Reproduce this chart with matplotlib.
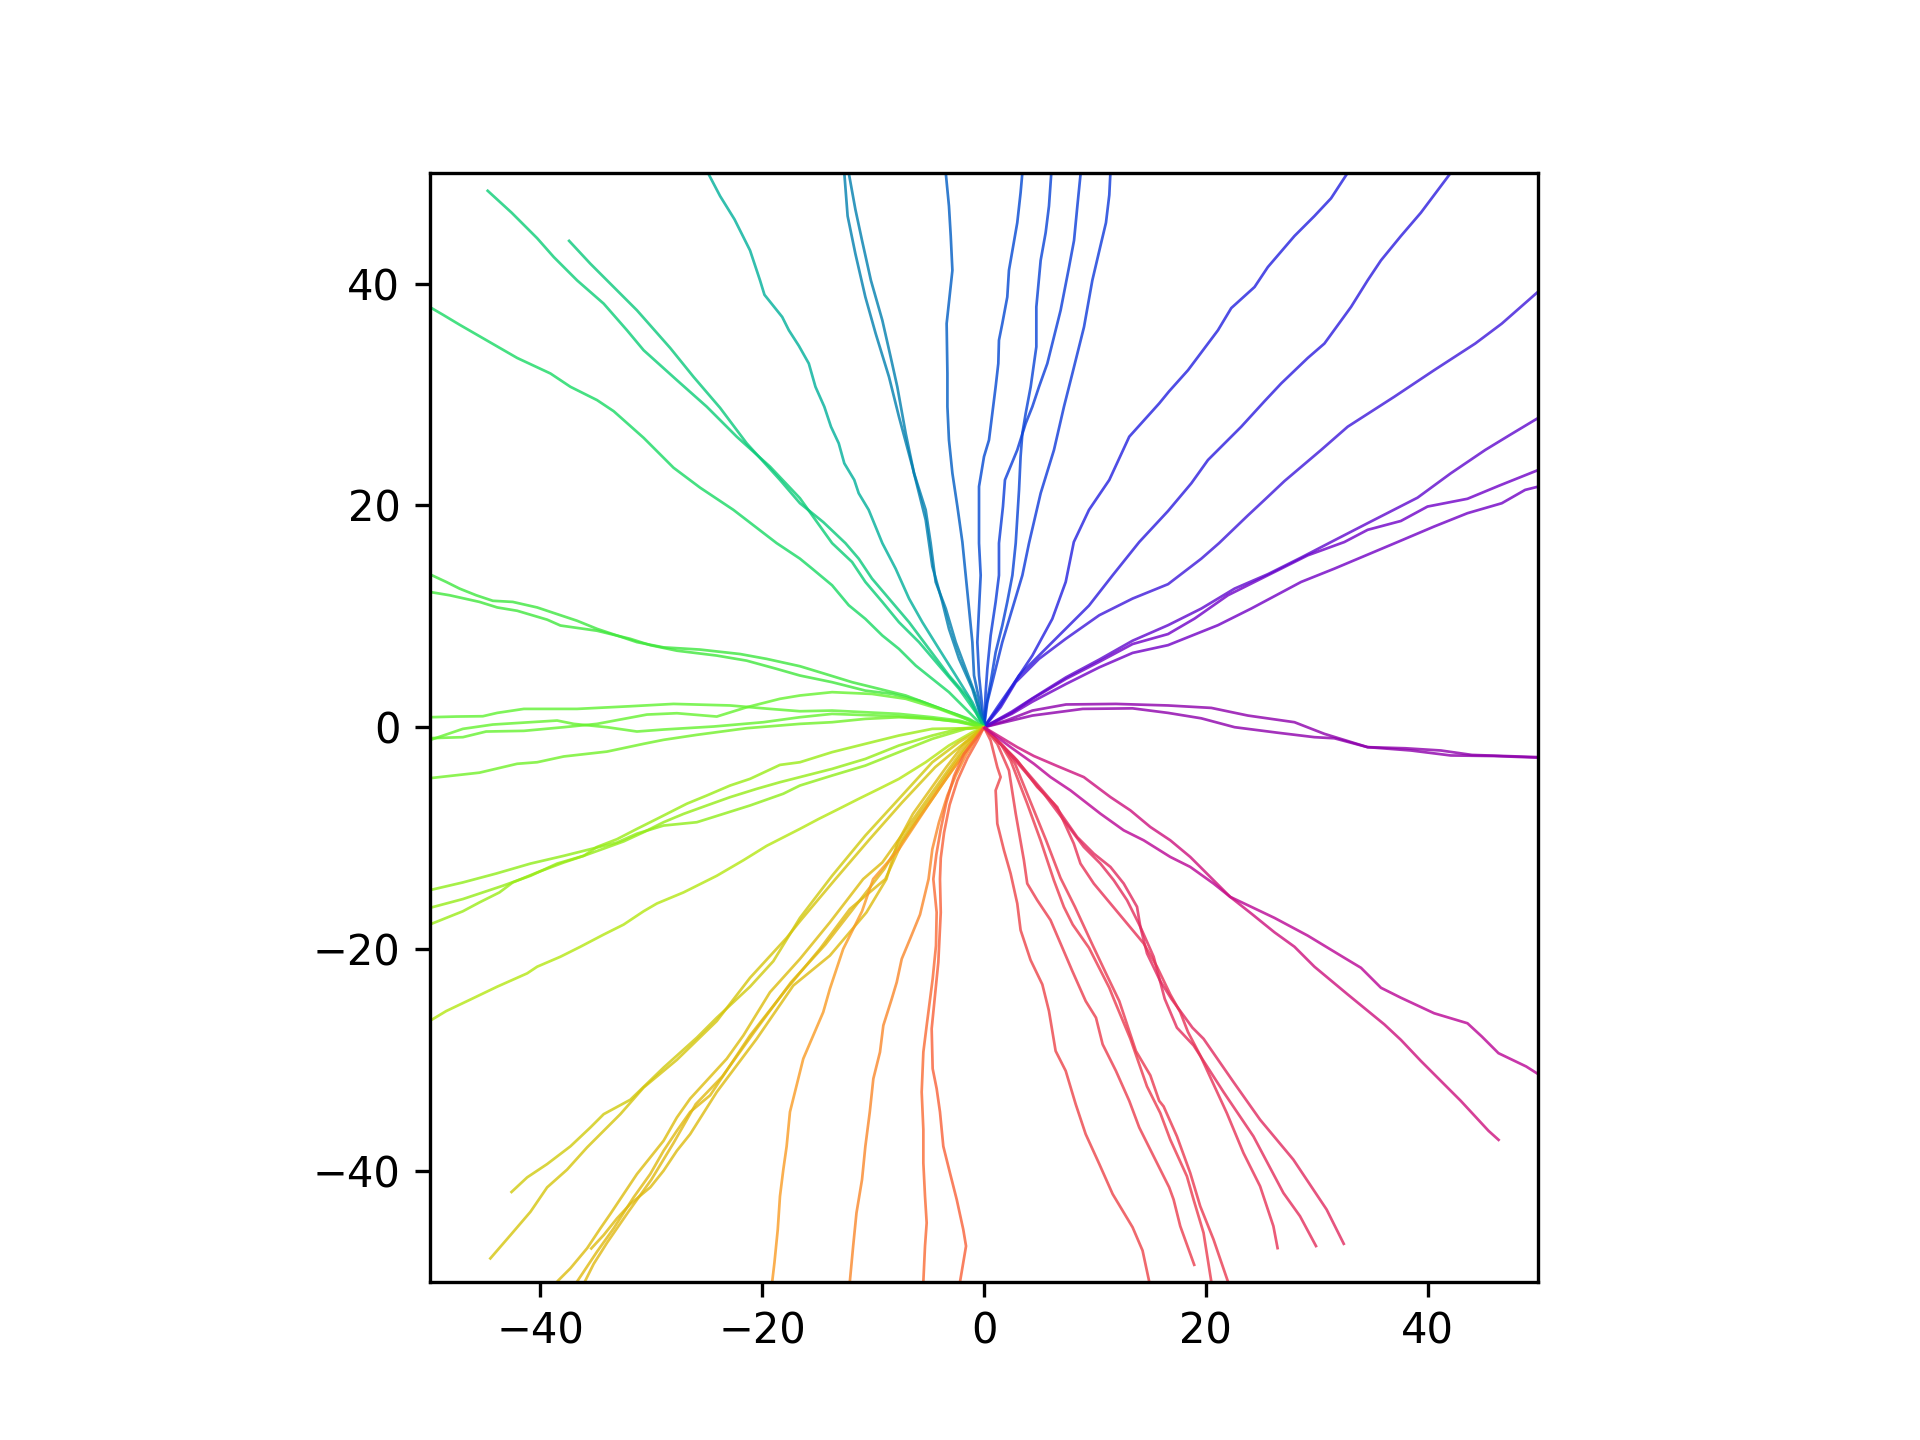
import numpy as np
import matplotlib
matplotlib.use("Agg")
import matplotlib.pyplot as plt
from matplotlib.collections import LineCollection

# ---- walk paths (x, y) ----
rh1 = [(0,0),(2.0,0.6),(4.36,1.5),(7.4,2.05),(11.9,2.1),(16.6,1.96),(20.5,1.74),(23.8,1.05),(28.0,0.45),(30.7,-0.6),(34.6,-1.8),(38.0,-1.9),(41.2,-2.1),(44,-2.5),(50,-2.7)]
rh2 = [(0,0),(4.36,1.05),(8.9,1.65),(13.4,1.7),(16.6,1.29),(19.6,0.8),(22.6,0.0),(26.5,-0.5),(29.8,-0.9),(31.6,-1.0),(34.6,-1.8),(38.5,-2.1),(42.1,-2.55),(46,-2.6),(50,-2.75)]
u21 = [(0,0),(2.5,1.2),(4.36,2.3),(7.4,3.9),(10.4,5.4),(13.4,6.7),(16.6,7.4),(21.1,9.2),(24.1,10.7),(28.6,13.1),(31.6,14.3),(37.3,16.7),(40.6,18.1),(43.6,19.3),(46.7,20.2),(48.8,21.4),(50,21.7)]
u23 = [(0,0),(2.5,1.3),(4.36,2.56),(7.4,4.36),(10.4,5.9),(13.4,7.5),(16.6,8.4),(19.0,9.8),(22.0,11.9),(25.0,13.4),(29.2,15.5),(32.5,16.7),(34.6,17.8),(37.6,18.6),(40.0,19.9),(43.6,20.6),(46.5,21.8),(50,23.2)]
u28 = [(0,0),(2.5,1.4),(4.36,2.6),(7.4,4.5),(10.4,6.1),(13.4,7.8),(16.6,9.2),(19.6,10.7),(22.6,12.5),(25.6,13.8),(28.6,15.3),(31.3,16.7),(34.6,18.4),(39.1,20.7),(42.1,22.9),(45.2,25.0),(47.5,26.4),(50,27.9)]
u39 = [(0,0),(1.5,1.8),(2.86,4.06),(4.96,6.16),(7.37,7.97),(10.4,10.1),(13.4,11.6),(16.6,12.9),(19.6,15.2),(21.2,16.6),(23.8,19.1),(25.3,20.5),(27.1,22.2),(30.4,25.0),(32.8,27.1),(37.0,29.8),(40.6,32.2),(44.3,34.6),(46.7,36.4),(50,39.3)]
bv2 = [(0,0),(1.5,2.0),(3.16,4.66),(6.16,7.67),(9.47,10.97),(11.6,13.7),(14.0,16.7),(16.6,19.5),(18.7,22.0),(20.2,24.1),(23.2,27.1),(25.3,29.4),(26.8,31.0),(29.2,33.3),(30.7,34.6),(33.1,37.9),(34.6,40.3),(35.8,42.1),(37.6,44.3),(39.4,46.4),(42.1,50)]
bv1 = [(0,0),(1.2,1.8),(2.56,3.76),(4.36,6.46),(6.16,9.77),(7.37,13.1),(8.1,16.7),(9.47,19.6),(11.3,22.3),(13.1,26.2),(15.8,29.2),(16.7,30.3),(18.4,32.2),(21.1,35.8),(22.3,37.8),(24.4,39.7),(25.6,41.5),(28.0,44.3),(29.8,46.1),(31.3,47.7),(32.8,50)]
top_g = [(0,0),(0.3,2.25),(0.9,4.66),(1.65,7.67),(2.56,10.7),(3.46,13.7),(4.06,16.6),(5.11,21.1),(6.31,25.0),(7.21,28.9),(7.97,31.9),(9.02,36.1),(9.77,40.3),(10.5,43.4),(11.0,45.5),(11.3,48),(11.4,50)]
top_f = [(0,0),(0.15,3.16),(0.3,5.26),(0.6,8.27),(1.05,11.3),(1.35,13.7),(1.35,16.6),(1.71,19.9),(1.89,22.3),(3.0,25.0),(3.76,27.4),(4.36,28.9),(4.96,30.7),(5.71,32.8),(6.31,35.2),(6.91,37.6),(7.67,41.5),(8.12,43.9),(8.42,47.0),(8.72,50)]
top_e = [(0,0),(0.15,1.65),(0.6,4.06),(1.05,6.76),(1.65,9.17),(2.1,11.3),(2.56,13.7),(2.86,16.6),(3.16,21.4),(3.3,24.4),(3.46,26.5),(3.76,28.3),(4.21,30.7),(4.72,34.3),(4.72,37.9),(5.11,42.1),(5.56,44.6),(5.86,47.0),(6.07,50)]
top_d = [(0,0),(-0.2,2.25),(-0.45,4.66),(-0.6,7.67),(-0.45,10.7),(-0.3,13.7),(-0.45,16.6),(-0.45,21.7),(0.0,24.4),(0.45,25.9),(0.75,28.3),(1.05,30.7),(1.29,32.8),(1.35,34.9),(1.65,36.4),(2.1,38.8),(2.25,41.2),(3.0,45.5),(3.3,48.2),(3.46,50)]
top_c = [(0,0),(-0.45,2.56),(-0.9,4.66),(-1.05,7.67),(-1.35,10.7),(-1.65,13.7),(-1.95,16.7),(-2.4,19.9),(-2.85,22.9),(-3.16,25.9),(-3.3,28.9),(-3.3,31.9),(-3.37,36.4),(-2.85,41.2),(-3.0,44.3),(-3.16,47.0),(-3.45,50)]
top_a = [(0,0),(-1.05,3.46),(-2.25,6.16),(-3.16,8.87),(-3.76,11.3),(-4.66,14.5),(-4.96,16.6),(-5.26,18.7),(-6.46,23.5),(-7.67,28.0),(-8.57,31.6),(-9.77,35.5),(-10.7,38.8),(-11.6,42.7),(-12.3,46.1),(-12.6,50)]
top_b = [(0,0),(-0.75,2.86),(-1.65,5.26),(-2.55,7.67),(-3.45,10.7),(-4.36,13.1),(-4.81,16.6),(-5.26,19.6),(-6.31,22.9),(-7.06,26.5),(-7.82,30.7),(-8.42,33.4),(-9.17,36.7),(-10.2,40.3),(-11.0,43.9),(-11.6,46.7),(-12.2,50)]
teal1 = [(0,0),(-1.05,2.25),(-2.55,4.66),(-4.06,7.06),(-5.56,9.47),(-6.76,11.6),(-7.97,14.3),(-9.17,16.6),(-10.4,19.6),(-11.3,21.1),(-11.7,22.3),(-12.6,23.8),(-13.1,25.6),(-13.8,27.1),(-14.4,28.9),(-15.2,30.7),(-15.8,32.8),(-16.7,34.4),(-17.6,35.8),(-18.2,37.0),(-19.8,39.0),(-20.2,40.3),(-21.1,43.0),(-22.5,45.8),(-23.8,47.9),(-24.9,50)]
teal2 = [(0,0),(-0.75,1.35),(-2.25,3.46),(-4.06,5.56),(-5.86,7.67),(-7.67,9.47),(-9.17,11.3),(-10.7,13.1),(-11.9,14.9),(-13.7,16.6),(-16.6,20.65),(-19.3,23.5),(-22.3,26.2),(-25.0,28.9),(-27.7,31.3),(-30.7,34.0),(-32.2,35.8),(-34.3,38.2),(-36.7,40.3),(-38.8,42.4),(-40.3,44.1),(-42.6,46.4),(-44.85,48.46)]
teal3 = [(0,0),(-1.35,2.56),(-3.16,4.66),(-4.96,7.06),(-6.76,9.47),(-8.57,11.6),(-10.1,13.4),(-11.3,15.2),(-12.5,16.6),(-14.5,18.5),(-16.6,20.2),(-18.4,22.3),(-21.4,25.6),(-23.8,28.8),(-26.2,31.6),(-28.3,34.2),(-31.3,37.6),(-33.1,39.4),(-35.5,41.8),(-37.5,43.95)]
teal4 = [(0,0),(-1.65,1.65),(-3.16,3.16),(-4.66,4.36),(-6.16,5.56),(-7.67,7.06),(-9.17,8.27),(-10.7,9.77),(-12.2,11.0),(-13.7,12.8),(-15.5,14.3),(-16.6,15.2),(-18.7,16.6),(-22.6,19.6),(-25.6,21.6),(-28.0,23.4),(-30.7,26.1),(-33.4,28.5),(-34.9,29.5),(-37.3,30.7),(-39.1,31.9),(-42.1,33.3),(-44.7,34.8),(-47.3,36.3),(-48.8,37.2),(-50,37.9)]
grn1 = [(0,0),(-2.25,1.05),(-4.66,1.96),(-7.06,2.86),(-9.47,3.46),(-11.9,4.06),(-14.3,4.8),(-16.6,5.5),(-19.6,6.16),(-22.0,6.6),(-25.6,7.0),(-28.9,7.2),(-31.3,7.67),(-33.1,8.27),(-34.9,8.87),(-36.7,9.6),(-38.5,10.2),(-40.3,10.8),(-42.5,11.3),(-44.3,11.4),(-45.8,11.9),(-47.3,12.5),(-48.5,13.1),(-50,13.8)]
grn2 = [(0,0),(-1.35,0.75),(-3.45,1.5),(-5.86,2.4),(-8.27,3.0),(-10.7,3.3),(-13.7,4.06),(-16.6,4.66),(-18.7,5.26),(-21.4,6.0),(-24.1,6.46),(-27.7,6.9),(-30.1,7.4),(-31.9,7.97),(-34.9,8.7),(-38.2,9.17),(-39.4,9.7),(-42.1,10.5),(-43.9,10.8),(-45.5,11.3),(-48.2,11.9),(-50,12.2)]
grn3 = [(0,0),(-2.25,0.6),(-4.66,0.9),(-7.67,1.2),(-10.7,1.35),(-13.7,1.5),(-16.6,1.44),(-19.3,1.65),(-22.9,1.96),(-28.0,2.1),(-31.9,1.89),(-36.7,1.65),(-41.5,1.65),(-43.9,1.29),(-45.2,0.99),(-47.6,0.96),(-50,0.9)]
grn4 = [(0,0),(-1.65,0.75),(-4.06,1.65),(-7.06,2.56),(-10.1,3.0),(-13.7,3.16),(-16.6,2.86),(-18.4,2.56),(-21.4,1.8),(-24.1,0.96),(-27.7,1.26),(-30.4,1.14),(-34.9,0.3),(-37.9,0.0),(-41.5,-0.33),(-44.9,-0.39),(-47.0,-0.9),(-50,-0.99)]
grn5 = [(0,0),(-2.5,0.5),(-5.0,0.8),(-8.0,1.0),(-11.0,1.1),(-13.7,1.2),(-16.6,0.9),(-19.9,0.45),(-24.4,0.06),(-28.9,-0.21),(-31.3,-0.39),(-34.0,0.0),(-37.0,0.3),(-38.5,0.6),(-44.3,0.24),(-47.0,-0.15),(-50,-1.17)]
grn6 = [(0,0),(-2.25,0.5),(-4.66,0.75),(-7.67,0.9),(-10.7,0.75),(-13.7,0.45),(-16.6,0.3),(-21.4,-0.09),(-25.9,-0.69),(-28.9,-1.14),(-30.7,-1.5),(-34.0,-2.2),(-37.9,-2.64),(-40.3,-3.16),(-42.1,-3.3),(-45.5,-4.1),(-50,-4.6)]
ygr1 = [(0,0),(-1.65,-0.15),(-4.66,-1.05),(-7.67,-2.25),(-10.7,-3.46),(-13.7,-4.36),(-16.6,-5.26),(-18.1,-6.0),(-21.1,-7.06),(-24.4,-8.1),(-25.9,-8.57),(-28.9,-8.87),(-31.3,-9.6),(-33.1,-10.4),(-35.5,-11.0),(-37.9,-11.6),(-40.9,-12.3),(-44.0,-13.2),(-47.0,-14.0),(-50,-14.7)]
ygr2 = [(0,0),(-2.25,-0.15),(-4.66,-0.75),(-7.67,-1.65),(-10.7,-2.86),(-13.7,-3.76),(-16.6,-4.5),(-18.4,-4.96),(-20.5,-5.56),(-22.9,-6.31),(-25.0,-7.06),(-27.1,-7.82),(-28.9,-8.57),(-30.7,-9.47),(-32.5,-10.3),(-36.1,-11.6),(-38.5,-12.3),(-40.9,-13.4),(-43.4,-14.3),(-47.0,-15.5),(-50,-16.3)]
ygr3 = [(0,0),(-2.0,-0.1),(-4.66,-0.15),(-7.67,-0.75),(-10.7,-1.5),(-13.7,-2.25),(-16.6,-3.16),(-18.4,-3.4),(-21.1,-4.66),(-22.9,-5.26),(-25.0,-6.16),(-26.8,-6.9),(-29.5,-8.27),(-31.3,-9.17),(-33.1,-10.1),(-34.9,-10.8),(-36.1,-11.6),(-37.9,-12.2),(-40.3,-13.1),(-42.5,-14.0),(-43.7,-14.9),(-45.5,-15.8),(-47.0,-16.6),(-50,-17.8)]
ygr4 = [(0,0),(-1.05,-0.45),(-3.16,-1.65),(-5.26,-3.16),(-7.67,-4.66),(-9.47,-5.56),(-11.3,-6.46),(-13.1,-7.37),(-14.9,-8.27),(-16.6,-9.17),(-19.6,-10.7),(-21.7,-12.0),(-24.1,-13.4),(-27.1,-14.9),(-29.5,-15.9),(-30.7,-16.6),(-32.5,-17.8),(-34.3,-18.7),(-36.4,-19.8),(-38.2,-20.7),(-40.3,-21.6),(-41.2,-22.2),(-43.9,-23.4),(-46.4,-24.6),(-48.5,-25.6),(-50,-26.5)]
yel1 = [(0,0),(-2.25,-1.35),(-4.66,-3.16),(-7.67,-6.46),(-10.7,-9.77),(-13.7,-13.4),(-16.6,-17.2),(-19.0,-21.1),(-21.1,-23.4),(-24.1,-26.2),(-25.9,-28.0),(-28.9,-30.7),(-31.9,-33.6),(-34.3,-34.9),(-35.5,-36.1),(-37.3,-37.8),(-39.4,-39.4),(-41.2,-40.6),(-42.7,-42.0)]
yel2 = [(0,0),(-2.0,-1.6),(-4.4,-3.6),(-7.4,-6.8),(-10.4,-10.2),(-13.4,-13.7),(-16.6,-17.5),(-17.8,-19.0),(-21.1,-22.6),(-24.1,-26.5),(-27.7,-30.0),(-30.7,-32.5),(-32.8,-34.9),(-35.8,-37.9),(-37.6,-39.9),(-39.4,-41.5),(-40.9,-43.7),(-42.7,-45.8),(-44.6,-48.0)]
yel3 = [(0,0),(-1.65,-1.65),(-3.16,-3.76),(-4.66,-5.86),(-6.16,-7.97),(-7.67,-10.1),(-9.17,-12.2),(-10.9,-13.7),(-13.9,-17.6),(-16.6,-20.9),(-19.3,-23.9),(-21.7,-27.8),(-23.2,-29.9),(-26.5,-33.5),(-27.7,-35.2),(-28.9,-37.3),(-30.1,-38.8),(-31.3,-40.3),(-32.5,-42.1),(-33.7,-43.9),(-34.6,-45.2),(-35.8,-47.0),(-37.3,-48.8),(-38.5,-50)]
yel4 = [(0,0),(-1.4,-1.8),(-2.9,-3.9),(-4.4,-6.1),(-5.9,-8.2),(-7.4,-10.4),(-8.9,-13.7),(-12.1,-16.4),(-14.8,-20.0),(-17.8,-23.6),(-21.1,-27.8),(-24.7,-33.2),(-26.5,-34.7),(-27.7,-36.4),(-28.9,-38.2),(-30.1,-40.3),(-31.6,-42.4),(-33.4,-45.2),(-34.9,-47.3),(-36.1,-49.1),(-36.7,-50)]
yel5 = [(0,0),(-1.8,-1.5),(-3.4,-3.6),(-4.9,-5.7),(-6.4,-7.8),(-7.8,-10.4),(-8.8,-13.7),(-10.6,-16.7),(-13.9,-20.6),(-17.2,-23.3),(-20.5,-28.1),(-24.1,-32.9),(-26.5,-36.7),(-27.7,-38.2),(-28.9,-40.0),(-30.1,-41.5),(-31.9,-43.0),(-33.1,-44.3),(-34.3,-45.8),(-35.5,-47.1)]
yel6 = [(0,0),(-1.5,-1.7),(-3.0,-3.8),(-4.5,-6.0),(-6.0,-8.1),(-7.5,-10.3),(-9.0,-12.8),(-11.5,-16.0),(-14.3,-19.6),(-17.4,-23.0),(-20.8,-27.6),(-23.6,-31.5),(-26.0,-34.0),(-28.0,-37.5),(-30.0,-40.8),(-32.0,-43.6),(-34.0,-46.5),(-35.2,-48.4),(-36.0,-50)]
orn1 = [(0,0),(-1.05,-1.35),(-2.55,-3.46),(-4.06,-5.56),(-5.86,-8.27),(-7.67,-11.0),(-10.0,-13.7),(-11.0,-16.6),(-12.7,-20.0),(-13.9,-23.6),(-14.5,-25.7),(-15.4,-27.8),(-16.3,-29.9),(-16.9,-32.3),(-17.5,-34.7),(-17.8,-37.8),(-18.1,-39.9),(-18.4,-42.3),(-18.6,-45.3),(-18.9,-48.3),(-19.1,-50)]
orn2 = [(0,0),(-0.75,-1.05),(-1.65,-2.55),(-2.55,-4.36),(-3.3,-6.16),(-4.06,-8.57),(-4.66,-11.0),(-5.0,-13.7),(-5.77,-16.9),(-6.67,-19.1),(-7.42,-20.9),(-7.87,-23.0),(-8.32,-24.5),(-9.08,-26.9),(-9.38,-29.3),(-9.98,-31.7),(-10.3,-34.7),(-10.7,-37.8),(-11.0,-40.8),(-11.5,-43.8),(-11.8,-46.8),(-12.1,-50)]
orn3 = [(0,0),(-0.75,-1.05),(-1.8,-2.4),(-2.7,-4.4),(-3.4,-6.8),(-3.9,-9.2),(-4.3,-11.5),(-4.57,-13.7),(-4.27,-16.7),(-4.33,-19.7),(-4.63,-22.7),(-5.17,-26.9),(-5.47,-29.3),(-5.62,-32.9),(-5.47,-36.3),(-5.47,-39.3),(-5.32,-42.3),(-5.17,-44.7),(-5.32,-46.8),(-5.47,-50)]
orn4 = [(0,0),(-0.6,-1.2),(-1.5,-2.8),(-2.4,-4.8),(-3.1,-7.0),(-3.6,-9.5),(-3.9,-11.8),(-3.97,-13.7),(-3.9,-16.7),(-4.12,-21.2),(-4.42,-24.2),(-4.72,-27.2),(-4.63,-30.8),(-4.27,-32.6),(-3.97,-34.7),(-3.67,-37.8),(-3.07,-40.2),(-2.46,-42.6),(-1.87,-45.3),(-1.62,-46.8),(-2.16,-50)]
red1 = [(0,0),(0.6,-1.2),(1.2,-3.6),(1.5,-4.5),(1.05,-5.7),(1.2,-8.7),(1.8,-11.1),(2.4,-13.2),(3.0,-15.9),(3.3,-18.3),(4.2,-21.0),(5.26,-23.2),(5.86,-25.6),(6.46,-29.2),(7.37,-31.0),(8.27,-34.0),(9.17,-36.7),(10.4,-39.4),(11.6,-42.1),(13.4,-45.1),(14.3,-47.2),(14.9,-50)]
red2 = [(0,0),(1.2,-1.5),(2.25,-3.9),(2.86,-7.8),(3.6,-12.0),(3.9,-14.1),(4.8,-15.6),(6.0,-17.4),(6.9,-19.5),(7.97,-22.0),(9.17,-24.7),(10.1,-26.2),(10.7,-28.6),(11.9,-31.0),(13.1,-33.7),(14.0,-36.1),(15.2,-38.5),(16.7,-41.5),(17.1,-42.6),(17.7,-45.0),(19.0,-48.6)]
red3 = [(0,0),(1.5,-1.5),(2.4,-3.0),(3.9,-6.9),(5.1,-10.2),(6.3,-13.8),(7.2,-16.2),(8.0,-17.8),(9.47,-19.9),(11.3,-23.5),(11.7,-24.5),(13.2,-28.1),(14.7,-32.4),(15.9,-34.8),(16.8,-37.2),(18.3,-40.5),(18.9,-42.6),(19.8,-45.6),(20.5,-50)]
red4 = [(0,0),(1.8,-1.8),(2.8,-3.3),(4.3,-7.0),(5.6,-10.2),(6.9,-13.6),(8.2,-16.2),(9.77,-19.6),(11.0,-22.2),(12.2,-24.7),(13.7,-29.2),(15.0,-31.4),(15.8,-33.7),(16.2,-34.2),(17.4,-36.9),(18.6,-40.2),(19.5,-43.2),(20.7,-46.2),(22.0,-50)]
red5 = [(0,0),(1.8,-1.8),(3.6,-3.9),(5.4,-6.0),(7.2,-8.4),(9.0,-10.8),(10.5,-12.3),(11.7,-13.8),(12.9,-15.6),(14.1,-18.0),(15.3,-20.7),(16.3,-24.5),(17.4,-27.1),(18.9,-28.7),(21.6,-32.9),(24.3,-36.9),(27.0,-42.0),(28.5,-44.1),(30.0,-46.9)]
red6 = [(0,0),(2.7,-2.7),(4.5,-4.8),(6.3,-6.9),(8.4,-9.9),(9.9,-11.4),(11.4,-12.6),(12.6,-14.1),(13.8,-16.2),(14.1,-18.0),(14.7,-20.4),(15.9,-22.9),(16.9,-24.5),(18.8,-27.1),(19.8,-28.1),(22.5,-32.0),(24.9,-35.4),(27.9,-39.0),(30.9,-43.5),(32.5,-46.7)]
red7 = [(0,0),(3.0,-3.0),(4.8,-5.4),(6.6,-7.2),(8.1,-10.5),(8.7,-12.3),(9.9,-14.1),(11.4,-15.9),(12.9,-17.7),(14.4,-19.5),(15.6,-21.6),(16.8,-24.1),(17.7,-25.7),(18.4,-27.5),(19.5,-29.6),(21.9,-34.8),(23.4,-38.4),(24.9,-41.4),(26.1,-45.0),(26.5,-47.1)]
mag1 = [(0,0),(2.4,-1.8),(4.5,-3.3),(6.0,-4.5),(7.8,-5.7),(10.5,-7.8),(12.6,-9.3),(14.4,-10.2),(16.8,-11.7),(18.6,-12.6),(20.7,-14.1),(22.2,-15.3),(24.1,-16.2),(26.2,-17.2),(29.2,-18.8),(32.5,-20.8),(34.0,-21.7),(35.8,-23.5),(37.6,-24.4),(40.6,-25.8),(43.6,-26.7),(44.9,-27.9),(46.4,-29.4),(48.9,-30.6),(50,-31.3)]
mag2 = [(0,0),(3.0,-1.8),(4.5,-2.6),(6.6,-3.5),(9.0,-4.5),(11.4,-6.3),(13.2,-7.5),(15.0,-9.0),(16.8,-10.2),(18.6,-11.7),(20.4,-13.5),(22.2,-15.3),(24.1,-16.8),(26.2,-18.5),(28.0,-19.8),(29.8,-21.6),(32.8,-24.1),(36.1,-26.8),(37.6,-28.2),(39.4,-30.1),(41.2,-31.9),(43.0,-33.7),(45.5,-36.4),(46.5,-37.3)]

walks = [rh1, rh2, u21, u23, u28, u39, bv2, bv1, top_g, top_f, top_e, top_d,
         top_c, top_a, top_b, teal1, teal2, teal3, teal4, grn1, grn2, grn3,
         grn4, grn5, grn6, ygr1, ygr2, ygr3, ygr4, yel1, yel2, yel3, yel4,
         yel5, yel6, orn1, orn2, orn3, orn4, red1, red2, red3, red4, red5,
         red6, red7, mag1, mag2]

xticks = [-40, -20, 0, 20, 40]
yticks = [-40, -20, 0, 20, 40]

# cyclic colour scale: apparent colour vs. direction of the walk's end point
scale_angle = [0, 25, 38, 55, 80, 90, 100, 116, 133, 143, 165, 180, 198, 208,
               230, 249, 256, 266, 287, 300, 321, 328, 360]
scale_rgb = [(160, 40, 190), (140, 45, 210), (100, 70, 225), (80, 75, 230),
             (60, 100, 225), (50, 115, 215), (40, 140, 195), (45, 190, 175),
             (60, 215, 145), (70, 225, 130), (100, 235, 100), (130, 245, 90),
             (170, 240, 70), (195, 235, 65), (225, 205, 60), (250, 175, 80),
             (250, 160, 85), (250, 130, 95), (240, 105, 110), (235, 90, 120),
             (215, 65, 150), (200, 55, 170), (160, 40, 190)]
line_alpha = 0.8

rgb = np.asarray(scale_rgb, dtype=float) / 255.0
base = np.clip((rgb - (1 - line_alpha)) / line_alpha, 0, 1)

colors = []
for w in walks:
    ex, ey = w[-1]
    ang = np.degrees(np.arctan2(ey, ex)) % 360
    c = [np.interp(ang, scale_angle, base[:, k]) for k in range(3)]
    colors.append((c[0], c[1], c[2], line_alpha))

fig, ax = plt.subplots(figsize=(6.4, 4.8), dpi=300)
lc = LineCollection([np.asarray(w) for w in walks], colors=colors, linewidths=0.65)
ax.add_collection(lc)
ax.set_xlim(-50, 50)
ax.set_ylim(-50, 50)
ax.set_aspect('equal')
ax.set_xticks(xticks)
ax.set_yticks(yticks)
fig.savefig("out.png", dpi=300)
